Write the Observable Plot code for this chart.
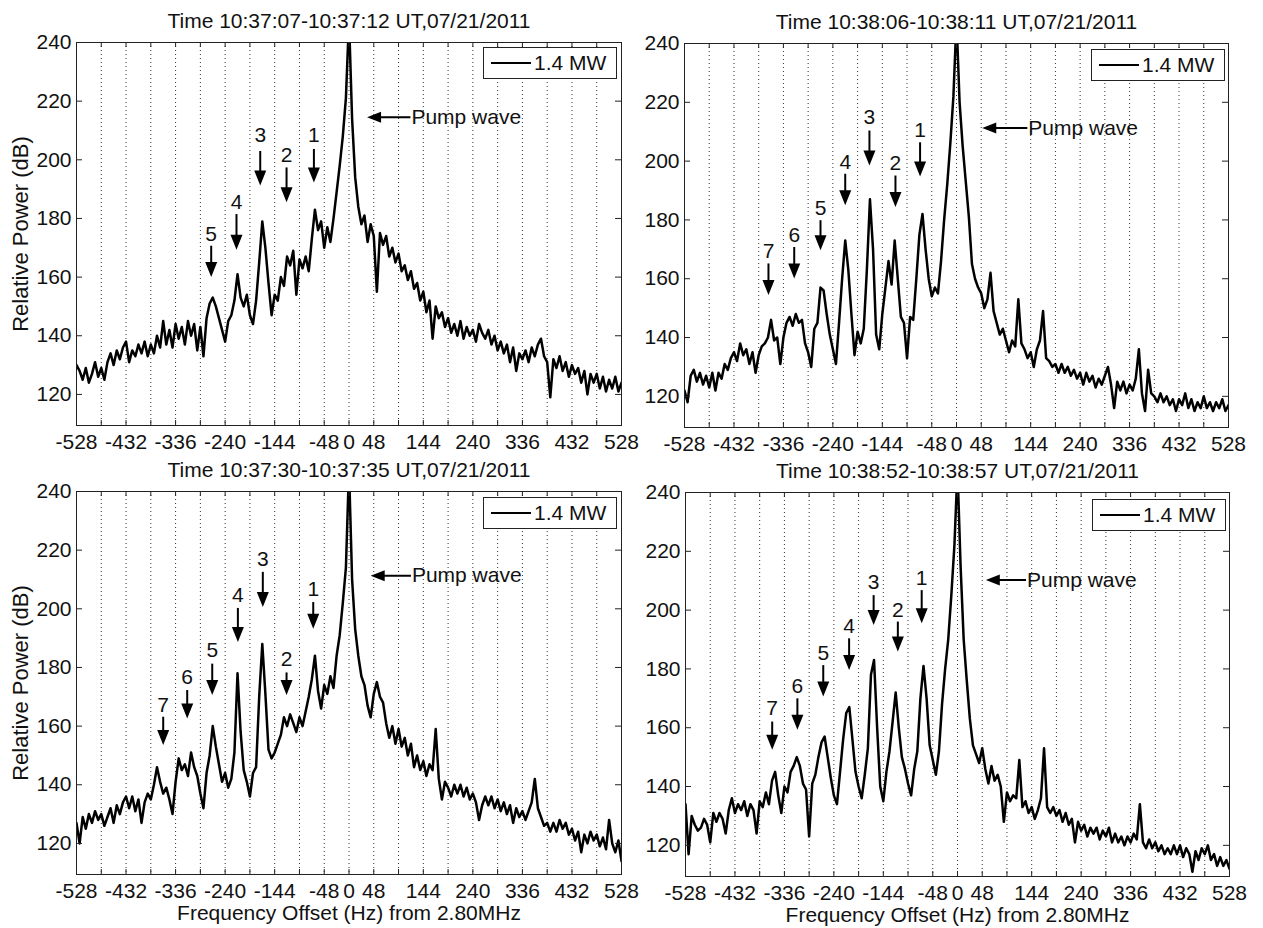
<!DOCTYPE html>
<html><head><meta charset="utf-8">
<script src="https://cdn.jsdelivr.net/npm/d3@7"></script>
<script src="https://cdn.jsdelivr.net/npm/@observablehq/plot@0.6"></script>
<style>
body{margin:0;background:#fff;}
#fig{position:relative;width:1263px;height:928px;background:#fff;font-family:"Liberation Sans",Arial,Helvetica,sans-serif;overflow:hidden;}
.panel{position:absolute;}
.legend{position:absolute;border:1px solid #222;background:#fff;width:134px;height:32px;box-sizing:border-box;font-size:21px;color:#111;display:flex;align-items:center;}
.legend .sw{width:40px;height:0;border-top:2px solid #000;margin-left:7px;margin-right:3px;}
</style></head><body><div id="fig"></div>
<script>
// frequency grid (Hz offset from 2.80 MHz): -528 .. 528, 6 Hz apart
const freqStart = -528, freqStep = 6;

// Relative power (dB), panel 1: 10:37:07-10:37:12
const power1 = [
130,128,125,129,124,127,131,126,129,125, 131,134,130,135,132,136,138,131,135,133,
137,134,138,133,137,134,140,136,145,137, 142,136,144,139,143,137,145,140,144,135,
143,133,146,151,153,150,146,142,138,145, 147,152,161,153,150,154,147,144,152,165,
179,170,158,147,154,152,160,157,167,164, 169,154,166,163,167,162,173,183,176,179,
170,177,172,180,189,198,208,221,248,214, 194,184,178,181,172,178,174,155,175,171,
174,167,170,165,168,162,164,159,162,156, 158,152,155,148,152,139,150,146,148,143,
146,141,144,140,145,139,143,140,142,138, 144,141,139,142,137,140,135,138,134,137,
131,136,128,134,132,135,131,136,133,137, 139,133,131,119,132,129,133,128,131,126,
130,127,129,124,128,120,127,124,127,122, 126,121,125,122,126,121,124];
// panel 2: 10:38:06-10:38:11
const power2 = [
122,118,127,129,125,128,124,127,123,128, 122,128,126,131,129,133,135,132,138,134,
136,131,135,128,134,137,138,140,146,139, 140,131,140,145,147,144,148,145,146,138,
135,130,143,145,157,156,148,141,136,131, 145,160,173,163,148,134,142,138,143,163,
187,170,141,136,148,157,166,158,173,160, 147,145,133,147,146,160,175,182,170,160,
154,157,155,166,180,192,206,222,248,220, 205,193,181,165,160,157,155,150,153,162,
149,145,141,143,139,135,139,137,153,138, 136,133,135,130,136,139,149,133,132,130,
131,128,131,128,130,127,129,126,128,124, 128,125,127,123,126,124,127,130,124,116,
125,122,125,121,124,122,126,136,121,115, 129,121,120,118,121,118,120,117,119,115,
119,117,121,116,119,115,118,116,120,116, 118,115,118,116,119,115,117];
// panel 3: 10:37:30-10:37:35
const power3 = [
127,120,129,125,130,127,131,128,130,126, 129,132,127,133,130,134,136,132,136,131,
135,127,134,137,135,140,146,141,137,139, 135,130,141,149,145,147,143,151,146,143,
137,132,144,150,160,153,147,141,144,139, 142,151,178,158,145,141,136,144,146,170,
188,171,152,149,151,154,157,163,160,164, 161,158,163,160,165,170,176,184,172,166,
174,171,177,173,184,191,202,214,248,210, 193,184,177,174,167,163,171,175,170,168,
161,156,160,154,159,153,156,150,154,146, 150,145,148,143,147,145,159,142,135,141,
139,136,140,137,140,136,139,135,137,134, 128,133,136,133,136,132,135,131,134,130,
133,127,132,129,131,128,131,134,142,132, 129,126,127,124,127,124,128,125,127,123,
125,121,124,117,123,120,124,121,123,119, 122,118,128,120,117,121,114];
// panel 4: 10:38:52-10:38:57
const power4 = [
134,117,130,127,125,126,129,127,121,131, 128,131,129,124,132,136,131,134,132,135,
130,134,132,124,135,133,138,134,142,145, 137,131,140,138,145,147,150,147,141,139,
123,141,144,150,155,157,150,143,137,134, 145,156,165,167,156,145,140,136,144,153,
178,183,160,140,135,145,152,162,172,160, 150,146,141,137,146,152,170,181,170,154,
149,144,152,168,180,190,205,222,248,215, 190,176,163,154,151,148,153,146,141,147,
142,144,140,128,138,135,137,136,149,133, 135,131,133,129,132,136,153,133,131,133,
130,132,128,131,127,129,121,128,125,127, 123,126,124,126,122,125,123,126,121,124,
121,123,120,123,121,124,122,134,121,119, 122,119,121,118,120,117,119,117,120,117,
120,116,119,117,111,118,115,119,117,120, 115,117,113,116,113,115,112];

const titles = [
  "Time 10:37:07-10:37:12 UT,07/21/2011",
  "Time 10:38:06-10:38:11 UT,07/21/2011",
  "Time 10:37:30-10:37:35 UT,07/21/2011",
  "Time 10:38:52-10:38:57 UT,07/21/2011"];
const xTickLabels = [-528,-432,-336,-240,-144,-48,0,48,144,240,336,432,528];
const xTicks = [-528,-480,-432,-384,-336,-288,-240,-192,-144,-96,-48,0,48,96,144,192,240,288,336,384,432,480,528];
const yTicks = [120,140,160,180,200,220,240];
const yLabel = "Relative Power (dB)";
const xLabel = "Frequency Offset (Hz) from 2.80MHz";
const legendLabel = "1.4 MW";
const pumpLabel = "Pump wave";

// numbered peak markers: [label, frequency, label level, arrow top, arrow tip]
const peaks1 = [["5",-267,174.7,170.7,160],["4",-218,185.5,181.5,169.3],["3",-172,208.2,203,191.2],
  ["2",-121,201.4,197.4,185.5],["1",-68,208.2,203.7,192.3]];
const peaks2 = [["7",-365,169.2,165.2,154.5],["6",-315,174.8,170.8,160.1],["5",-264,183.8,179.9,169.7],
  ["4",-216,199.7,195.7,185],["3",-169,214.9,210.4,198.5],["2",-118.5,199.1,195.1,184.4],["1",-70.7,210.4,206.4,194.8]];
const peaks3 = [["7",-360,167.2,163.2,153.6],["6",-313.5,176.8,172.3,162.6],["5",-265,185.9,181.3,170.6],
  ["4",-215.3,204.6,200.3,188.7],["3",-167,217,212.6,200.6],["2",-121,182.7,178.3,170.6],["1",-69.3,206.8,202.3,193.2]];
const peaks4 = [["7",-359.7,166.6,162.1,152.5],["6",-310.8,174,170,159.3],["5",-260.6,185.3,181.3,170.6],
  ["4",-210.4,194.4,190.4,179.6],["3",-162.8,209.6,205.1,194.9],["2",-115.8,200,196.1,185.9],["1",-69.5,210.8,206.8,195.5]];
// pump wave arrow: [tip frequency, tail frequency, level]
const pump1 = [35,119,214.5];
const pump2 = [50,137.5,211.3];
const pump3 = [42,120,211.3];
const pump4 = [55,133,210.2];

const Y0 = 109.4, Y1 = 240, X0 = -528, X1 = 528;
const FONT = '"Liberation Sans", Arial, Helvetica, sans-serif';

const headDown = {draw(c){c.moveTo(0,0);c.lineTo(-6,-15);c.lineTo(6,-15);c.closePath();}};
const headLeft = {draw(c){c.moveTo(0,0);c.lineTo(14,-5.5);c.lineTo(14,5.5);c.closePath();}};

const layout = [
  {left:0,top:0,w:632,h:460,mL:76,mR:11,mT:42,mB:35,lg:[483,47],yl:true,xl:false},
  {left:632,top:0,w:631,h:460,mL:52,mR:35,mT:43,mB:33,lg:[459,49],yl:false,xl:false},
  {left:0,top:460,w:632,h:468,mL:76,mR:11,mT:31,mB:54,lg:[483,37],yl:true,xl:true},
  {left:632,top:460,w:631,h:468,mL:53,mR:34,mT:32,mB:52,lg:[460,39],yl:false,xl:true}];
const powers = [power1,power2,power3,power4];
const peaks = [peaks1,peaks2,peaks3,peaks4];
const pumps = [pump1,pump2,pump3,pump4];

const fig = document.getElementById("fig");
layout.forEach((L, k) => {
  const data = powers[k].map((p, i) => ({f: freqStart + i*freqStep, p}));
  const iw = L.w - L.mL - L.mR, ih = L.h - L.mT - L.mB;
  const ux = (X1 - X0)/iw, uy = (Y1 - Y0)/ih; // data units per pixel
  const pk = peaks[k], pu = pumps[k];
  const marks = [
    Plot.ruleX(xTicks.filter(d => d > X0 && d < X1), {stroke:"#333", strokeWidth:1, strokeDasharray:"1,3"}),
    Plot.line(data, {x:"f", y:"p", stroke:"#000", strokeWidth:2.5, strokeLinejoin:"round", clip:true}),
    Plot.frame({stroke:"#222"}),
    Plot.ruleX(xTicks, {y1:Y0, y2:Y0 + 5*uy, stroke:"#222"}),
    Plot.ruleX(xTicks, {y1:Y1, y2:Y1 - 5*uy, stroke:"#222"}),
    Plot.ruleY(yTicks, {x1:X0, x2:X0 + 6*ux, stroke:"#222"}),
    Plot.ruleY(yTicks, {x1:X1, x2:X1 - 6*ux, stroke:"#222"}),
    Plot.text(xTickLabels, {x:d=>d, text:d=>String(d), frameAnchor:"bottom", lineAnchor:"top", dy:9, fontSize:21, fill:"#111"}),
    Plot.text(yTicks, {y:d=>d, text:d=>String(d), frameAnchor:"left", textAnchor:"end", dx:-5, fontSize:21, fill:"#111"}),
    Plot.text([titles[k]], {frameAnchor:"top", lineAnchor:"bottom", dy:-15, fontSize:21, fill:"#111"}),
    // numbered arrows
    Plot.link(pk, {x1:d=>d[1], x2:d=>d[1], y1:d=>d[3], y2:d=>d[4] + 4*uy, stroke:"#000", strokeWidth:2}),
    Plot.dot(pk, {x:d=>d[1], y:d=>d[4], symbol:headDown, fill:"#000", stroke:"none"}),
    Plot.text(pk, {x:d=>d[1], y:d=>d[2], text:d=>d[0], fontSize:21, fill:"#111"}),
    // pump wave arrow
    Plot.link([pu], {x1:d=>d[1], x2:d=>d[0] + 4*ux, y1:d=>d[2], y2:d=>d[2], stroke:"#000", strokeWidth:2}),
    Plot.dot([pu], {x:d=>d[0], y:d=>d[2], symbol:headLeft, fill:"#000", stroke:"none"}),
    Plot.text([pu], {x:d=>d[1], y:d=>d[2], text:()=>pumpLabel, textAnchor:"start", dx:1, fontSize:21, fill:"#111"})
  ];
  if (L.yl) marks.push(Plot.text([yLabel], {frameAnchor:"left", textAnchor:"middle", rotate:-90, lineAnchor:"bottom", dx:-49, fontSize:22, fill:"#111"}));
  if (L.xl) marks.push(Plot.text([xLabel], {frameAnchor:"bottom", textAnchor:"middle", lineAnchor:"bottom", dy:45, fontSize:21, fill:"#111"}));
  const svg = Plot.plot({
    width:L.w, height:L.h, marginLeft:L.mL, marginRight:L.mR, marginTop:L.mT, marginBottom:L.mB,
    x:{domain:[X0,X1], axis:null},
    y:{domain:[Y0,Y1], axis:null},
    style:{fontFamily:FONT, background:"transparent", overflow:"visible"},
    marks
  });
  const div = document.createElement("div");
  div.className = "panel";
  div.style.left = L.left + "px"; div.style.top = L.top + "px";
  div.style.width = L.w + "px"; div.style.height = L.h + "px";
  div.appendChild(svg);
  const lg = document.createElement("div");
  lg.className = "legend";
  lg.style.left = L.lg[0] + "px"; lg.style.top = L.lg[1] + "px";
  lg.innerHTML = '<span class="sw"></span><span>' + legendLabel + '</span>';
  div.appendChild(lg);
  fig.appendChild(div);
});
</script></body></html>
